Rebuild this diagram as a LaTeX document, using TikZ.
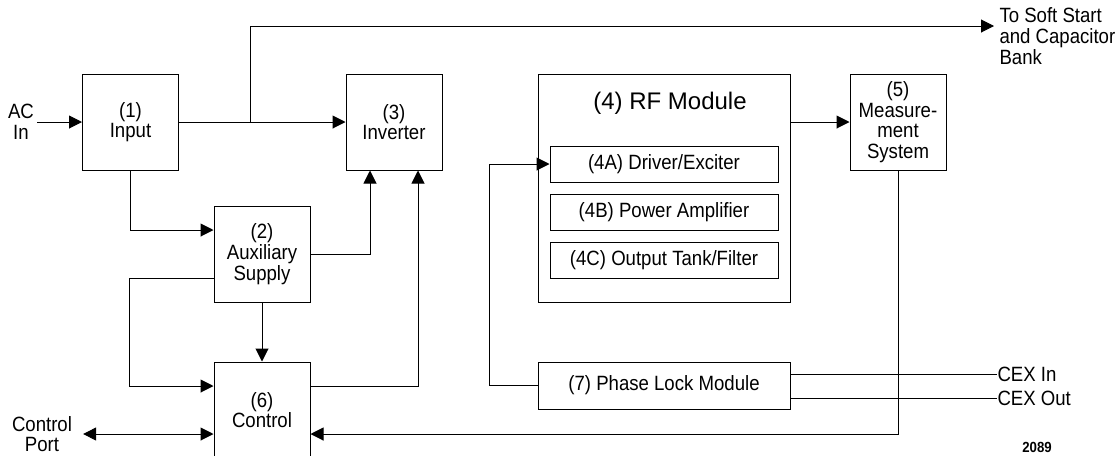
\documentclass[tikz,border=0pt]{standalone}
\usepackage{fontspec}
\setmainfont{Liberation Sans}[FakeStretch=0.9]
\newfontfamily\rffont{Liberation Sans}
\usetikzlibrary{arrows.meta}
\begin{document}
\begin{tikzpicture}[x=0.75pt,y=-0.75pt,line width=0.75pt,>={Triangle[length=9.75pt,width=9.75pt]},
main node/.style={draw,minimum width=72pt,minimum height=72pt,inner sep=0pt,align=center,font=\fontsize{15.5pt}{15.5pt}\selectfont},
sub node/.style={draw,minimum width=171pt,minimum height=27pt,inner sep=0pt,font=\fontsize{15.5pt}{15.5pt}\selectfont},
text node/.style={inner sep=0pt,font=\fontsize{15.5pt}{15.5pt}\selectfont}]
\useasboundingbox (0,0) rectangle (1117,455);
\clip (0,0) rectangle (1117,455);
\begin{scope}
\node[main node] (b1) at (130.5,122) {(1)\\Input};%1
\node[main node] (b2) at (262,254) {(2)\\Auxiliary\\Supply};%2
\node[main node] (b3) at (394,122) {(3)\\Inverter};%3
\node[draw,minimum width=189pt,minimum height=171pt] (b4) at (664,188) {};%4
\node[inner sep=0pt,font=\rffont\fontsize{18pt}{18pt}\selectfont] (t4) at (670,103) {(4) RF Module};
\node[sub node] (b4a) at (664,164) {(4A) Driver/Exciter};%4A
\node[sub node] (b4b) at (664,212.5) {(4B) Power Amplifier};%4B
\node[sub node] (b4c) at (664,260) {(4C) Output Tank/Filter};%4C
\node[main node] (b5) at (898,122) {(5)\\Measure-\\ment\\System};%5
\node[main node] (b6) at (262,410) {(6)\\Control};%6
\node[draw,minimum width=189pt,minimum height=35.25pt,text node] (b7) at (664,385.5) {(7) Phase Lock Module};%7
\end{scope}
\begin{scope}[every node/.style={text node,align=center}]
\node (ac) at (21,122) {AC\\In};
\node[align=left,anchor=west] (soft) at (999,36) {To Soft Start\\and Capacitor\\Bank};
\node (port) at (42,434) {Control\\Port};
\node[anchor=west] (cexin) at (997,374) {CEX In};
\node[anchor=west] (cexout) at (997,398) {CEX Out};
\node[font=\fontsize{11pt}{11pt}\selectfont\bfseries] (num) at (1037,447) {2089};
\end{scope}
\coordinate (j1) at (250,122);
\coordinate (t1) at (994,26);
\draw[->] ([xshift=2pt]ac.east) -- (b1);
\draw[->] (b1) -- (b3);
\draw[->] (j1) |- (t1);
\draw[->] (b1.south) |- ([yshift=18pt]b2.west);
\draw[->] (b2.east) -| ([xshift=-18pt]b3.south);
\draw[->] ([yshift=18pt]b6.east) -| ([xshift=18pt]b3.south);
\draw[->] ([yshift=-18pt]b2.west) -- ++(-84,0) |- ([yshift=18pt]b6.west);
\draw[->] (b2) -- (b6);
\draw[<->] ([xshift=8pt]port.east) -- ([yshift=-18pt]b6.west);
\draw[->] (b4.east |- b5.west) -- (b5.west);
\draw[->] (b5.south) |- ([yshift=-18pt]b6.east);
\draw[->] (b7.west) -- ++(-48,0) |- (b4a.west);
\draw (b7.east |- cexin.west) -- (cexin.west);
\draw (b7.east |- cexout.west) -- (cexout.west);
\end{tikzpicture}
\end{document}
